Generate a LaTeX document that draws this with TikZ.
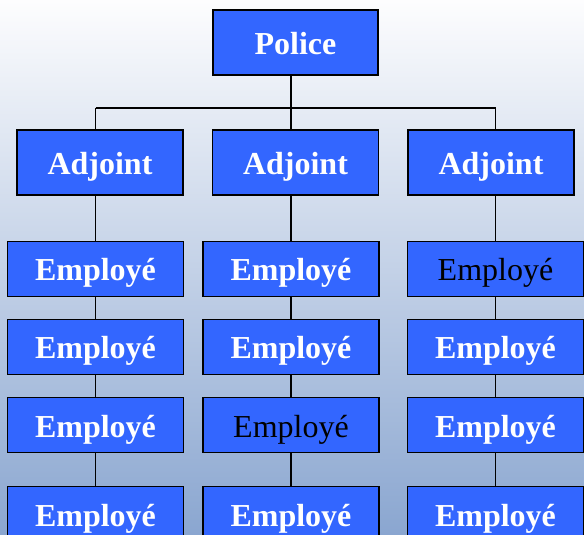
\documentclass[tikz,border=0pt]{standalone}
\usepackage{fontspec}
\setmainfont{Liberation Serif}
\usepackage{xcolor}
\usepackage{tikz}
\usetikzlibrary{positioning}
\definecolor{boxblue}{RGB}{51,102,255}
\definecolor{bgtop}{RGB}{253,253,254}
\definecolor{bgmid}{RGB}{206,215,230}
\definecolor{bgbottom}{RGB}{138,166,208}
\tikzset{
  bossnode/.style={draw, line width=1.2pt, rectangle, fill=boxblue, text=white, font=\fontsize{32}{36}\selectfont\bfseries, minimum width=165pt, minimum height=65pt, inner sep=0pt, text height=29pt, text depth=5pt},
  deputynode/.style={bossnode, minimum width=166pt},
  staffnode/.style={bossnode, minimum width=176pt, minimum height=55pt},
  plainstaff/.style={staffnode, text=black, font=\fontsize{32}{36}\selectfont},
  link/.style={line width=1.2pt}
}
\begin{document}
\begin{tikzpicture}[x=1pt, y=1pt, node distance=22pt]

% Background
\shade[top color=bgtop, middle color=bgmid, bottom color=bgbottom] (0,0) rectangle (584,-535);
\useasboundingbox (0,0) rectangle (584,-535);

% Nodes
\node[bossnode] (P) at (295.5,-42.5) {Police};
\node[deputynode] (A1) at (100,-162.5) {Adjoint};
\node[deputynode] (A2) at (295.5,-162.5) {Adjoint};
\node[deputynode] (A3) at (491,-162.5) {Adjoint};

\node[staffnode, below=45pt of A1, xshift=-4.5pt] (E11) {Employé};
\node[staffnode, below=of E11] (E12) {Employé};
\node[staffnode, below=of E12] (E13) {Employé};
\node[staffnode, below=33pt of E13] (E14) {Employé};

\node[staffnode, below=45pt of A2, xshift=-4.5pt] (E21) {Employé};
\node[staffnode, below=of E21] (E22) {Employé};
\node[plainstaff, below=of E22] (E23) {Employé};
\node[staffnode, below=33pt of E23] (E24) {Employé};

\node[plainstaff, below=45pt of A3, xshift=4.5pt] (E31) {Employé};
\node[staffnode, below=of E31] (E32) {Employé};
\node[staffnode, below=of E32] (E33) {Employé};
\node[staffnode, below=33pt of E33] (E34) {Employé};

% Connections
\coordinate (bus) at (0,-108);
\draw[link] (P.south -| E21) -- (bus -| E21);
\draw[link] (bus -| E11) -- (bus -| E31);
\foreach \c in {1,2,3} {
  \draw[link] (bus -| E\c1) -- (A\c.north -| E\c1);
  \draw[link] (A\c.south -| E\c1) -- (E\c1.north);
  \draw[link] (E\c1) -- (E\c2);
  \draw[link] (E\c2) -- (E\c3);
  \draw[link] (E\c3) -- (E\c4);
}

\end{tikzpicture}
\end{document}
